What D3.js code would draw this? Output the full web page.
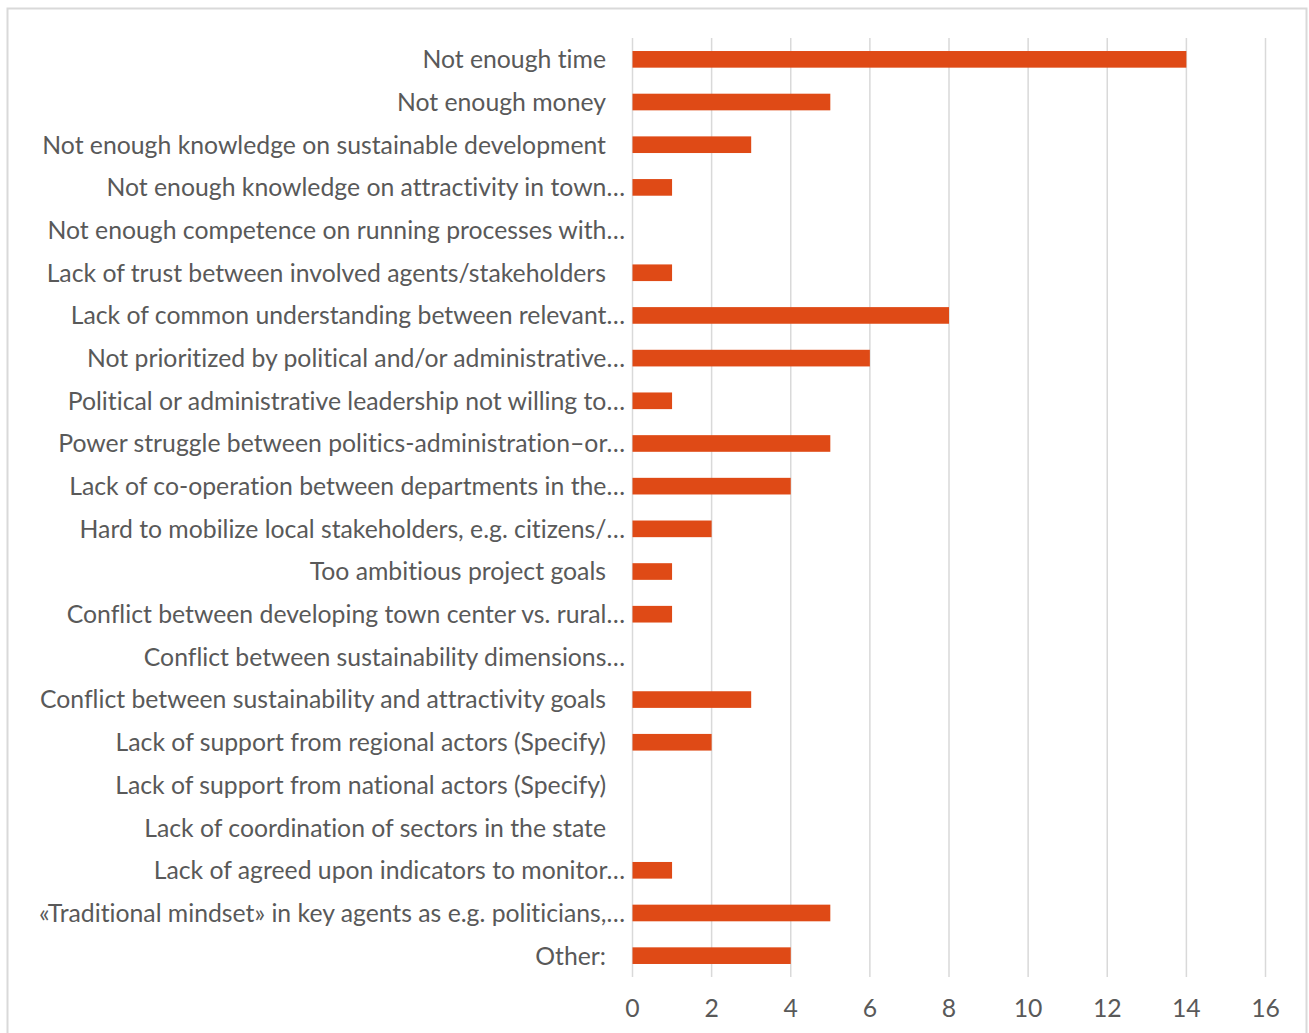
<!DOCTYPE html>
<html>
<head>
<meta charset="utf-8">
<script src="https://cdn.jsdelivr.net/npm/d3@7"></script>
<style>
  html, body { margin: 0; padding: 0; background: #ffffff; }
  svg { display: block; }
  text {
    font-family: "Lato", "Open Sans", "Liberation Sans", sans-serif;
    fill: #595959;
    font-variant-ligatures: none;
    font-feature-settings: "liga" 0, "clig" 0;
  }
</style>
</head>
<body>
<svg id="chart" width="1309" height="1033"></svg>
<script>
// Obstacles named by respondents, top to bottom
const categories = [
  "Not enough time",
  "Not enough money",
  "Not enough knowledge on sustainable development",
  "Not enough knowledge on attractivity in town…",
  "Not enough competence on running processes with…",
  "Lack of trust between involved agents/stakeholders",
  "Lack of common understanding between relevant…",
  "Not prioritized by political and/or administrative…",
  "Political or administrative leadership not willing to…",
  "Power struggle between politics-administration–or…",
  "Lack of co-operation between departments in the…",
  "Hard to mobilize local stakeholders, e.g. citizens/…",
  "Too ambitious project goals",
  "Conflict between developing town center vs. rural…",
  "Conflict between sustainability dimensions…",
  "Conflict between sustainability and attractivity goals",
  "Lack of support from regional actors (Specify)",
  "Lack of support from national actors (Specify)",
  "Lack of coordination of sectors in the state",
  "Lack of agreed upon indicators to monitor…",
  "«Traditional mindset» in key agents as e.g. politicians,…",
  "Other:"
];
// Number of responses per obstacle
const counts = [14, 5, 3, 1, 0, 1, 8, 6, 1, 5, 4, 2, 1, 1, 0, 3, 2, 0, 0, 1, 5, 4];
// Value axis ticks
const xTicks = [0, 2, 4, 6, 8, 10, 12, 14, 16];

const svg = d3.select("#chart");

// Outer chart frame
svg.append("rect")
  .attr("x", 7.5).attr("y", 8.5)
  .attr("width", 1299).attr("height", 1040)
  .attr("fill", "#ffffff")
  .attr("stroke", "#d9d9d9").attr("stroke-width", 2);

const plot = { left: 632.5, right: 1265.5, top: 38, bottom: 977 };

const x = d3.scaleLinear().domain([0, 16]).range([plot.left, plot.right]);
const y = d3.scaleBand().domain(categories).range([plot.top, plot.bottom]).paddingInner(0.61).paddingOuter(0.305);

// Vertical gridlines
svg.append("g").selectAll("line").data(xTicks).join("line")
  .attr("x1", d => x(d)).attr("x2", d => x(d))
  .attr("y1", plot.top).attr("y2", plot.bottom)
  .attr("stroke", "#d9d9d9").attr("stroke-width", 1.5);

// Bars
svg.append("g").selectAll("rect").data(categories).join("rect")
  .attr("x", x(0))
  .attr("y", d => y(d))
  .attr("width", (d, i) => x(counts[i]) - x(0))
  .attr("height", y.bandwidth())
  .attr("fill", "#df4a16");

// Category labels, sized so the widest full label spans its measured width
const labelG = svg.append("g");
const probe = labelG.append("text").attr("font-size", 20)
  .text("Not enough knowledge on sustainable development");
const fs = 20 * 564 / probe.node().getComputedTextLength();
probe.remove();

labelG.selectAll("text").data(categories).join("text")
  .attr("x", d => d.endsWith("…") ? 625 : 606)
  .attr("y", d => y(d) + y.bandwidth() / 2)
  .attr("dy", "0.36em")
  .attr("text-anchor", "end")
  .attr("font-size", fs)
  .text(d => d);

// Value axis tick labels
svg.append("g").selectAll("text").data(xTicks).join("text")
  .attr("x", d => x(d))
  .attr("y", 1008)
  .attr("dy", "0.36em")
  .attr("text-anchor", "middle")
  .attr("font-size", fs)
  .text(d => d);
</script>
</body>
</html>
